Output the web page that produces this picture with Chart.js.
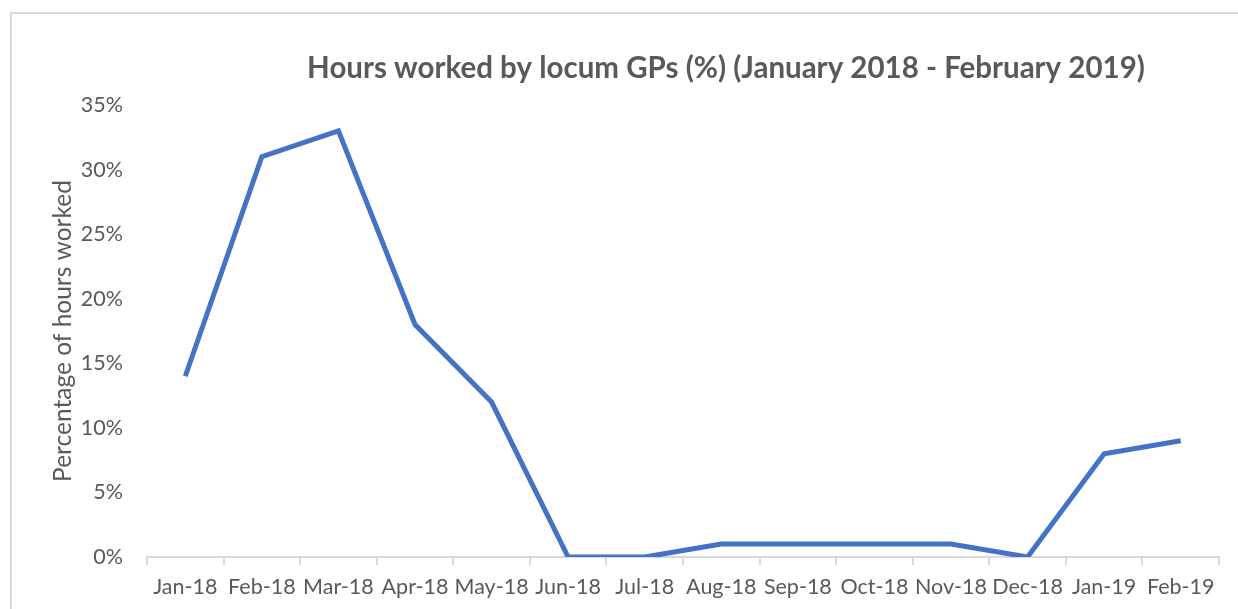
<!DOCTYPE html>
<html>
<head>
  <title>Hours worked by locum GPs</title>
  <meta charset="utf-8">
  <style>
    html, body { margin: 0; padding: 0; background: #fff; overflow: hidden; }
    #frame { position: absolute; left: 10px; top: 12px; width: 1240px; height: 620px;
             border-left: 2px solid #d9d9d9; border-top: 2px solid #d9d9d9; box-sizing: border-box; }
    #wrap { position: absolute; left: 0; top: 0; width: 1238px; height: 609px; }
  </style>
</head>
<body>
  <script src="https://cdn.jsdelivr.net/npm/chart.js"></script>
  <div id="frame"></div>
  <div id="wrap"><canvas id="lineChart" width="1238" height="609"></canvas></div>
<script>
    // Chart data
    const months = ['Jan-18', 'Feb-18', 'Mar-18', 'Apr-18', 'May-18', 'Jun-18', 'Jul-18',
                    'Aug-18', 'Sep-18', 'Oct-18', 'Nov-18', 'Dec-18', 'Jan-19', 'Feb-19'];
    const hoursPct = [14, 31, 33, 18, 12, 0, 0, 1, 1, 1, 1, 0, 8, 9];
    const yTicks = [0, 5, 10, 15, 20, 25, 30, 35];

    const chartTitle = 'Hours worked by locum GPs (%) (January 2018 - February 2019)';
    const textGrey = '#595959';

    // draws the title off-centre the way the original sits
    const titlePlugin = {
      id: 'offsetTitle',
      afterDraw(chart) {
        const ctx = chart.ctx;
        ctx.save();
        ctx.font = 'bold 29.5px Lato';
        ctx.fillStyle = textGrey;
        ctx.textAlign = 'center';
        ctx.textBaseline = 'middle';
        ctx.fillText(chartTitle, 726, 68);
        ctx.restore();
      }
    };

    const ctx = document.getElementById('lineChart').getContext('2d');
    new Chart(ctx, {
      type: 'line',
      data: {
        labels: months,
        datasets: [{
          label: 'Hours worked',
          data: hoursPct,
          borderColor: '#4472C4',
          borderWidth: 5,
          pointRadius: 0,
          tension: 0,
          fill: false
        }]
      },
      options: {
        responsive: false,
        animation: false,
        layout: { padding: { left: 0, right: 19, top: 105, bottom: 0 } },
        plugins: {
          legend: { display: false },
          title: { display: false },
          tooltip: { enabled: false }
        },
        scales: {
          x: {
            offset: true,
            grid: { offset: true, drawOnChartArea: false, drawTicks: true, tickLength: 8, color: '#d9d9d9', lineWidth: 2 },
            border: { color: '#d9d9d9', width: 2 },
            ticks: { color: textGrey, font: { family: 'Lato', size: 21.5 }, padding: 9, maxRotation: 0, autoSkip: false },
            afterFit(scale) { scale.height = 52; }
          },
          y: {
            min: 0,
            max: 35,
            afterBuildTicks(scale) { scale.ticks = yTicks.map(v => ({ value: v })); },
            grid: { display: false },
            border: { display: false },
            ticks: {
              color: textGrey,
              font: { family: 'Lato', size: 21.5 },
              padding: 16,
              callback: v => v + '%'
            },
            title: {
              display: true,
              text: 'Percentage of hours worked',
              color: textGrey,
              font: { family: 'Lato', size: 24.5 },
              padding: { top: 48, bottom: 0 }
            },
            afterFit(scale) { scale.width = 147; }
          }
        }
      },
      plugins: [titlePlugin]
    });
</script>
</body>
</html>
